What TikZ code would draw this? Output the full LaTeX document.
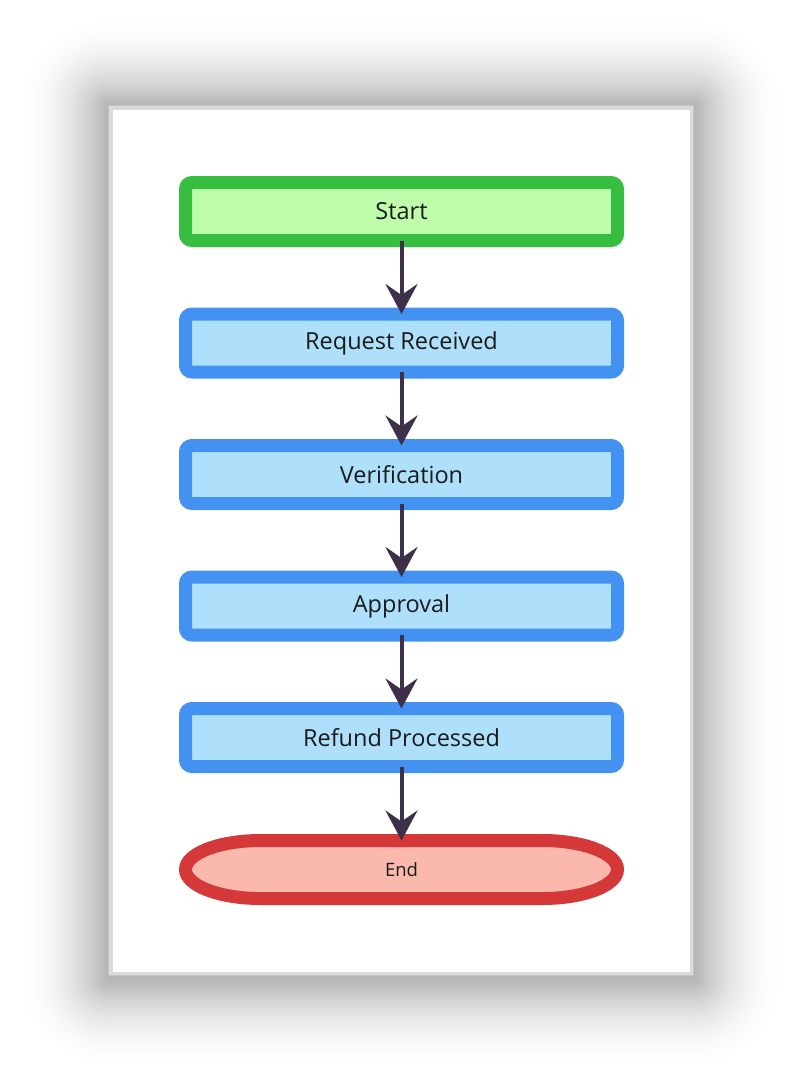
\documentclass[tikz,border=0pt]{standalone}
\usepackage{fontspec}
\setmainfont{Open Sans}
\usetikzlibrary{arrows.meta}
\definecolor{gstroke}{HTML}{37BE41}
\definecolor{gfill}{HTML}{BEFCAB}
\definecolor{bstroke}{HTML}{4392F1}
\definecolor{bfill}{HTML}{AEE0FB}
\definecolor{rstroke}{HTML}{D43838}
\definecolor{rfill}{HTML}{FBB9AD}
\definecolor{arrc}{HTML}{3D3048}
\definecolor{textc}{HTML}{1A1A1A}
\definecolor{pageedge}{HTML}{C4C4C4}
\definecolor{pageband}{HTML}{DADADA}
\tikzset{
  box/.style={draw, line width=13pt, rounded corners=6.5pt, minimum width=432pt,
    minimum height=58pt, outer sep=0pt, inner sep=0pt, text=textc,
    font=\fontsize{23.5}{28}\selectfont},
  startbox/.style={box, draw=gstroke, fill=gfill},
  procbox/.style={box, draw=bstroke, fill=bfill},
  endlabel/.style={minimum width=432pt, minimum height=58pt, outer sep=0pt, inner sep=0pt,
    text=textc, font=\fontsize{18.5}{22}\selectfont},
  arr/.style={draw=arrc, line width=4pt, -{Stealth[length=30pt, width=32pt, inset=11pt]}}
}
\begin{document}
\begin{tikzpicture}[x=1pt,y=-1pt]
\useasboundingbox (0,0) rectangle (803,1088);
\fill[white] (0,0) rectangle (803,1088);
% shadow (solid grey rings, outermost first)
\foreach \i in {45,44,...,1} {
  \pgfmathsetmacro{\d}{\i*2}
  \pgfmathsetmacro{\k}{30*(1-\d/92)^2}
  \fill[black!\k!white, rounded corners=\d pt] (108-\d, 106-\d) rectangle (694+\d, 979+\d);
}
% page
\fill[pageband] (108,105) rectangle (694,976);
\draw[pageedge, line width=1pt] (108.5,105.5) rectangle (693.5,975.5);
\fill[white] (113,110) rectangle (690,972);
% nodes
\node[startbox] (start) at (401.5,211.5) {Start};
\node[procbox] (req) at (401.5,343) {Request Received};
\node[procbox] (ver) at (401.5,474.5) {Verification};
\node[procbox] (app) at (401.5,606) {Approval};
\node[procbox] (ref) at (401.5,737.5) {Refund Processed};
% end shape
\draw[draw=rstroke, fill=rfill, line width=13pt]
  (260.5,840.5) -- (542.5,840.5)
  arc[start angle=-90, end angle=90, x radius=75, y radius=29]
  -- (260.5,898.5)
  arc[start angle=90, end angle=270, x radius=75, y radius=29] -- cycle;
\node[endlabel] (end) at (401.5,869.5) {End};
% connectors
\draw[arr] (start) -- (req);
\draw[arr] (req) -- (ver);
\draw[arr] (ver) -- (app);
\draw[arr] (app) -- (ref);
\draw[arr] (ref) -- (end);
\end{tikzpicture}
\end{document}
